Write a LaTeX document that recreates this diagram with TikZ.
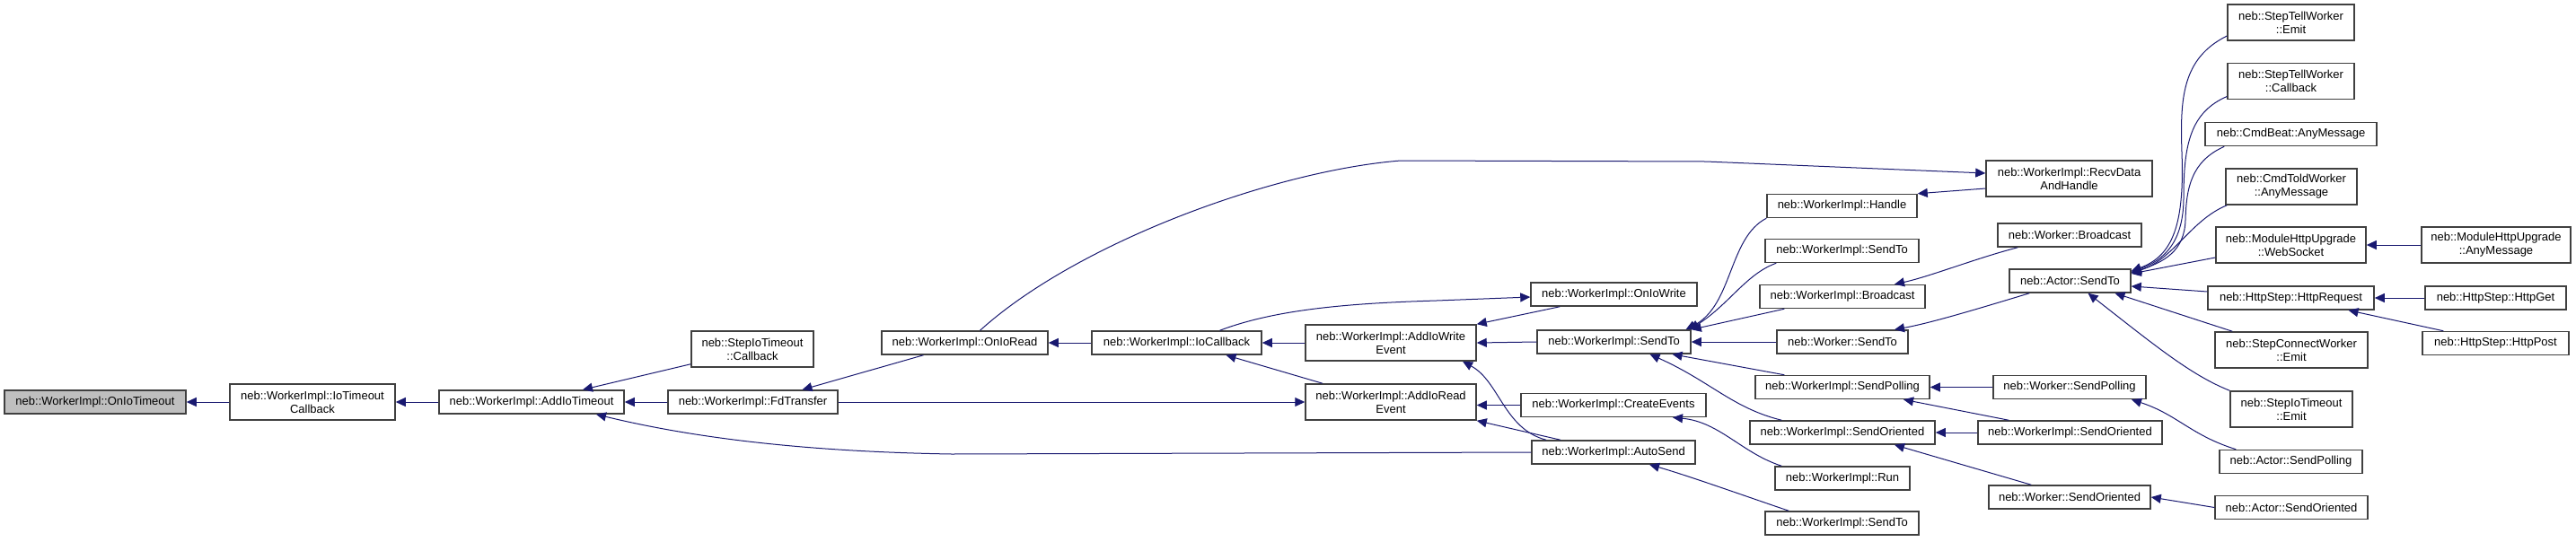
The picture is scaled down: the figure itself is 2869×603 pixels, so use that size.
\documentclass[tikz,border=0pt]{standalone}
\usepackage{fontspec}
\setmainfont{Liberation Sans}
\usetikzlibrary{arrows.meta}

\definecolor{edgeblue}{RGB}{25,25,112}
\definecolor{boxline}{RGB}{64,64,64}
\definecolor{rootfill}{RGB}{191,191,191}

\tikzset{
  fn/.style={draw=boxline, line width=1.5pt, fill=white, inner sep=0pt,
    align=center, minimum height=26pt, font=\fontsize{13}{15}\selectfont},
  two/.style={minimum height=40pt},
  root/.style={fn, fill=rootfill},
  call/.style={draw=edgeblue, line width=1pt, -{Triangle[length=11pt,width=10pt]}},
}

\begin{document}
\begin{tikzpicture}[x=1pt, y=-1pt]

% Fix the page size
\useasboundingbox (0,0) rectangle (2869,603);

% ===== Left chain =====
\node[root, minimum width=202pt] (OnIoTimeout) at (106,448) {neb::WorkerImpl::OnIoTimeout};
\node[fn, two, minimum width=184pt] (IoTimeoutCallback) at (348,448) {neb::WorkerImpl::IoTimeout\\Callback};
\node[fn, minimum width=206pt] (AddIoTimeout) at (592,448) {neb::WorkerImpl::AddIoTimeout};
\node[fn, two, minimum width=136pt] (StepIoTimeoutCallback) at (838,389) {neb::StepIoTimeout\\::Callback};
\node[fn, minimum width=189pt] (FdTransfer) at (838.5,448) {neb::WorkerImpl::FdTransfer};

% ===== Io callbacks =====
\node[fn, minimum width=185pt] (OnIoRead) at (1074.5,382) {neb::WorkerImpl::OnIoRead};
\node[fn, minimum width=189pt] (IoCallback) at (1310.5,382) {neb::WorkerImpl::IoCallback};
\node[fn, two, minimum width=190pt] (AddIoWriteEvent) at (1549,382) {neb::WorkerImpl::AddIoWrite\\Event};
\node[fn, two, minimum width=190pt] (AddIoReadEvent) at (1549,448) {neb::WorkerImpl::AddIoRead\\Event};

% ===== Middle column =====
\node[fn, minimum width=185pt] (OnIoWrite) at (1797.5,328) {neb::WorkerImpl::OnIoWrite};
\node[fn, minimum width=171pt] (SendToMain) at (1797.5,381) {neb::WorkerImpl::SendTo};
\node[fn, minimum width=206pt] (CreateEvents) at (1797,451.5) {neb::WorkerImpl::CreateEvents};
\node[fn, minimum width=182pt] (AutoSend) at (1797,504) {neb::WorkerImpl::AutoSend};

% ===== Callers of SendTo =====
\node[fn, minimum width=167pt] (Handle) at (2051.5,229.5) {neb::WorkerImpl::Handle};
\node[fn, minimum width=171pt] (SendToTop) at (2051.5,279.5) {neb::WorkerImpl::SendTo};
\node[fn, minimum width=184pt] (WorkerImplBroadcast) at (2052,330.5) {neb::WorkerImpl::Broadcast};
\node[fn, minimum width=146pt] (WorkerSendTo) at (2052,381) {neb::Worker::SendTo};
\node[fn, minimum width=194pt] (WorkerImplSendPolling) at (2052,431.5) {neb::WorkerImpl::SendPolling};
\node[fn, minimum width=206pt] (WorkerImplSendOriented) at (2052,482) {neb::WorkerImpl::SendOriented};
\node[fn, minimum width=150pt] (Run) at (2052,533) {neb::WorkerImpl::Run};
\node[fn, minimum width=171pt] (SendToBottom) at (2051.5,583) {neb::WorkerImpl::SendTo};

% ===== Worker and Actor =====
\node[fn, two, minimum width=185pt] (RecvDataAndHandle) at (2304.5,199) {neb::WorkerImpl::RecvData\\AndHandle};
\node[fn, minimum width=160pt] (WorkerBroadcast) at (2305,262) {neb::Worker::Broadcast};
\node[fn, minimum width=135pt] (ActorSendTo) at (2305.5,313) {neb::Actor::SendTo};
\node[fn, minimum width=170pt] (WorkerSendPolling) at (2305,431.5) {neb::Worker::SendPolling};
\node[fn, minimum width=205pt] (WorkerImplSendOrientedB) at (2305.5,482) {neb::WorkerImpl::SendOriented};
\node[fn, minimum width=180pt] (WorkerSendOriented) at (2305,554) {neb::Worker::SendOriented};

% ===== Right columns =====
\node[fn, two, minimum width=141pt] (StepTellWorkerEmit) at (2551.5,25) {neb::StepTellWorker\\::Emit};
\node[fn, two, minimum width=141pt] (StepTellWorkerCallback) at (2551.5,90.5) {neb::StepTellWorker\\::Callback};
\node[fn, minimum width=191pt] (CmdBeatAnyMessage) at (2551.5,149.5) {neb::CmdBeat::AnyMessage};
\node[fn, two, minimum width=146pt] (CmdToldWorkerAnyMessage) at (2552,208) {neb::CmdToldWorker\\::AnyMessage};
\node[fn, two, minimum width=167pt] (WebSocket) at (2551.5,273) {neb::ModuleHttpUpgrade\\::WebSocket};
\node[fn, minimum width=185pt] (HttpRequest) at (2551.5,332) {neb::HttpStep::HttpRequest};
\node[fn, two, minimum width=170pt] (StepConnectWorkerEmit) at (2552,390) {neb::StepConnectWorker\\::Emit};
\node[fn, two, minimum width=136pt] (StepIoTimeoutEmit) at (2552,456) {neb::StepIoTimeout\\::Emit};
\node[fn, minimum width=159pt] (ActorSendPolling) at (2551.5,514.5) {neb::Actor::SendPolling};
\node[fn, minimum width=170pt] (ActorSendOriented) at (2552,565.5) {neb::Actor::SendOriented};
\node[fn, two, minimum width=166pt] (UpgradeAnyMessage) at (2780,273) {neb::ModuleHttpUpgrade\\::AnyMessage};
\node[fn, minimum width=157pt] (HttpGet) at (2779.5,332) {neb::HttpStep::HttpGet};
\node[fn, minimum width=163pt] (HttpPost) at (2779.5,382.5) {neb::HttpStep::HttpPost};

% ===== Edges, left part =====
\draw[call] (IoTimeoutCallback.west) -- (OnIoTimeout.east);
\draw[call] (AddIoTimeout.west) -- (IoTimeoutCallback.east);
\draw[call] ([yshift=4pt]StepIoTimeoutCallback.south west) -- ([xshift=57pt]AddIoTimeout.north);
\draw[call] (FdTransfer.west) -- (AddIoTimeout.east);
\draw[call] (AutoSend.west) -- (1060,506) .. controls (880,503) and (760,485) .. ([xshift=72pt]AddIoTimeout.south);
\draw[call] ([xshift=-46pt]OnIoRead.south) -- ([xshift=55pt]FdTransfer.north);
\draw[call] (FdTransfer.east) -- (AddIoReadEvent.west);

% ===== Edges, io callbacks =====
\draw[call] (IoCallback.west) -- (OnIoRead.east);
\draw[call] ([xshift=17pt]OnIoRead.north) .. controls (1200,270) and (1420,190) .. (1560,179)
  -- (1900,180) -- ([yshift=6pt]RecvDataAndHandle.west);
\draw[call] (AddIoWriteEvent.west) -- (IoCallback.east);
\draw[call] ([xshift=-76pt]AddIoReadEvent.north) -- ([xshift=55pt]IoCallback.south);
\draw[call] ([xshift=48pt]IoCallback.north) .. controls (1420,345) and (1500,338) .. (1600,335)
  -- ([yshift=-3pt]OnIoWrite.west);
\draw[call] ([xshift=33pt]OnIoWrite.south west) -- (AddIoWriteEvent.north east);
\draw[call] (SendToMain.west) -- (AddIoWriteEvent.east);
\draw[call] ([xshift=-75pt]AutoSend.north) .. controls (1675,478) and (1670,425) .. ([xshift=80pt]AddIoWriteEvent.south);
\draw[call] (CreateEvents.west) -- (AddIoReadEvent.east |- CreateEvents.west);
\draw[call] ([xshift=-59pt]AutoSend.north) -- (AddIoReadEvent.south east);

% ===== Edges into SendTo =====
\draw[call] (Handle.south west) .. controls (1925,265) and (1930,340) .. ([xshift=80pt]SendToMain.north);
\draw[call] ([xshift=13pt]SendToTop.south west) .. controls (1945,305) and (1925,340) .. ([xshift=84pt]SendToMain.north);
\draw[call] ([xshift=28pt]WorkerImplBroadcast.south west) -- (SendToMain.north east);
\draw[call] (WorkerSendTo.west) -- (SendToMain.east);
\draw[call] ([xshift=33pt]WorkerImplSendPolling.north west) -- ([xshift=65pt]SendToMain.south);
\draw[call] ([xshift=36pt]WorkerImplSendOriented.north west) .. controls (1930,455) and (1905,425) .. ([xshift=40pt]SendToMain.south);
\draw[call] ([xshift=8pt]Run.north west) .. controls (1940,505) and (1915,470) .. ([xshift=66pt]CreateEvents.south);
\draw[call] ([xshift=27pt]SendToBottom.north west) .. controls (1950,555) and (1880,530) .. ([xshift=40pt]AutoSend.south);

% ===== Edges, worker level =====
\draw[call] ([yshift=-11pt]RecvDataAndHandle.west) -- (Handle.north east);
\draw[call] ([xshift=23pt]WorkerBroadcast.south west) .. controls (2200,288) and (2150,308) .. ([xshift=58pt]WorkerImplBroadcast.north);
\draw[call] ([xshift=23pt]ActorSendTo.south west) .. controls (2200,345) and (2150,360) .. ([xshift=58pt]WorkerSendTo.north);
\draw[call] (WorkerSendPolling.west) -- (WorkerImplSendPolling.east);
\draw[call] ([xshift=35pt]WorkerImplSendOrientedB.north west) -- ([xshift=68pt]WorkerImplSendPolling.south);
\draw[call] (WorkerImplSendOrientedB.west) -- (WorkerImplSendOriented.east);
\draw[call] ([xshift=48pt]WorkerSendOriented.north west) -- ([xshift=58pt]WorkerImplSendOriented.south);

% ===== Edges, actor level =====
\draw[call] ([yshift=-15pt]StepTellWorkerEmit.west) .. controls (2430,65) and (2428,110) .. (2430,170)
  .. controls (2433,250) and (2420,285) .. ([yshift=11pt]ActorSendTo.east);
\draw[call] ([yshift=-17pt]StepTellWorkerCallback.west) .. controls (2440,125) and (2432,160) .. (2432,220)
  .. controls (2432,270) and (2410,290) .. ([yshift=10pt]ActorSendTo.east);
\draw[call] ([xshift=22pt]CmdBeatAnyMessage.south west) .. controls (2440,180) and (2435,210) .. (2434,245)
  .. controls (2433,280) and (2410,292) .. ([yshift=9pt]ActorSendTo.east);
\draw[call] ([xshift=2pt]CmdToldWorkerAnyMessage.south west) .. controls (2440,245) and (2420,290) .. ([yshift=9pt]ActorSendTo.east);
\draw[call] ([yshift=-14pt]WebSocket.west) -- ([yshift=8pt]ActorSendTo.east);
\draw[call] ([yshift=7pt]HttpRequest.west) -- ([yshift=-6pt]ActorSendTo.east);
\draw[call] ([xshift=20pt]StepConnectWorkerEmit.north west) -- ([xshift=50pt]ActorSendTo.south);
\draw[call] (StepIoTimeoutEmit.north west) .. controls (2440,418) and (2400,385) .. ([xshift=20pt]ActorSendTo.south);
\draw[call] ([xshift=19pt]ActorSendPolling.north west) .. controls (2440,485) and (2425,462) .. ([xshift=69pt]WorkerSendPolling.south);
\draw[call] (ActorSendOriented.west) -- (WorkerSendOriented.east);

% ===== Edges, far right =====
\draw[call] (UpgradeAnyMessage.west) -- (WebSocket.east);
\draw[call] (HttpGet.west) -- (HttpRequest.east);
\draw[call] ([xshift=24pt]HttpPost.north west) -- ([xshift=64pt]HttpRequest.south);

\end{tikzpicture}
\end{document}
